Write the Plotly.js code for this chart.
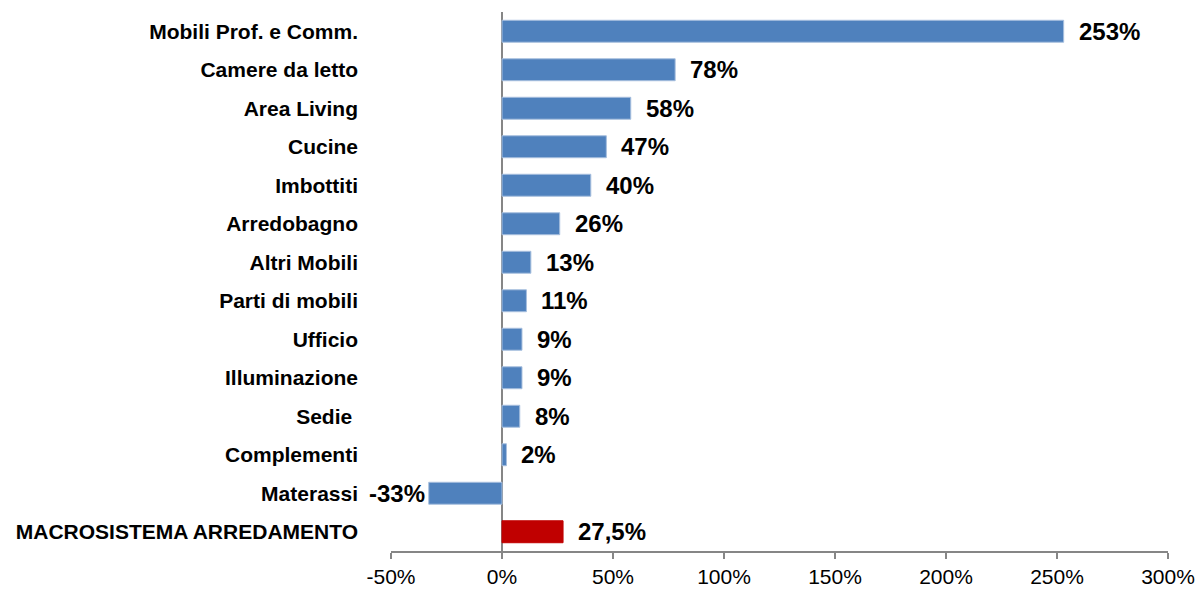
<!DOCTYPE html>
<html>
<head>
<meta charset="utf-8">
<script src="https://cdn.plot.ly/plotly-3.0.1.min.js"></script>
<style>
  html, body { margin: 0; padding: 0; background: #ffffff; }
  #chart { width: 1197px; height: 589px; }
</style>
</head>
<body>
<div id="chart"></div>
<script>
// Categories, top to bottom
const categories = [
  "Mobili Prof. e Comm.",
  "Camere da letto",
  "Area Living",
  "Cucine",
  "Imbottiti",
  "Arredobagno",
  "Altri Mobili",
  "Parti di mobili",
  "Ufficio",
  "Illuminazione",
  "Sedie ",
  "Complementi",
  "Materassi",
  "MACROSISTEMA ARREDAMENTO"
];
// Percentage change values
const values = [253, 78, 58, 47, 40, 26, 13, 11, 9, 9, 8, 2, -33, 27.5];
// Value labels as printed
const valueLabels = ["253%", "78%", "58%", "47%", "40%", "26%", "13%", "11%", "9%", "9%", "8%", "2%", "-33%", "27,5%"];
// Tick values / labels for x axis
const xTickVals = [-50, 0, 50, 100, 150, 200, 250, 300];
const xTickText = ["-50%", "0%", "50%", "100%", "150%", "200%", "250%", "300%"];

const totalLabel = "MACROSISTEMA ARREDAMENTO";
const barColors = categories.map(c => c === totalLabel ? "#C00000" : "#4F81BD");
const lineColors = categories.map(c => c === totalLabel ? "#C00000" : "#A7BFDE");

const trace = {
  type: "bar",
  orientation: "h",
  x: values,
  y: categories,
  marker: { color: barColors, line: { color: lineColors, width: 1 } },
  hoverinfo: "none",
  cliponaxis: false
};

const annotations = values.map((v, i) => ({
  x: v,
  y: categories[i],
  xref: "x",
  yref: "y",
  text: valueLabels[i],
  showarrow: false,
  xanchor: v >= 0 ? "left" : "right",
  xshift: v >= 0 ? 13 : -2,
  yanchor: "middle",
  font: { family: "Liberation Sans, Arial, sans-serif", size: 24, color: "#000000", weight: "bold" }
}));

const layout = {
  width: 1197,
  height: 589,
  margin: { l: 391, r: 29, t: 12, b: 38, pad: 0 },
  paper_bgcolor: "#ffffff",
  plot_bgcolor: "#ffffff",
  showlegend: false,
  bargap: 0.43,
  font: { family: "Liberation Sans, Arial, sans-serif", color: "#000000" },
  xaxis: {
    range: [-50, 300],
    tickvals: xTickVals,
    ticktext: xTickText,
    showgrid: false,
    zeroline: true,
    zerolinecolor: "#868686",
    zerolinewidth: 2,
    showline: true,
    linecolor: "#868686",
    linewidth: 2,
    ticks: "outside",
    ticklen: 6,
    tickwidth: 2,
    tickcolor: "#868686",
    ticklabelstandoff: 0,
    tickfont: { family: "Liberation Sans, Arial, sans-serif", size: 21, color: "#000000" },
    fixedrange: true
  },
  yaxis: {
    type: "category",
    categoryorder: "array",
    categoryarray: categories,
    range: [categories.length - 0.5, -0.5],
    showgrid: false,
    zeroline: false,
    showline: false,
    ticks: "",
    ticklabelstandoff: 32,
    tickfont: { family: "Liberation Sans, Arial, sans-serif", size: 21, color: "#000000", weight: "bold" },
    fixedrange: true
  },
  annotations: annotations
};

Plotly.newPlot("chart", [trace], layout, { displayModeBar: false, staticPlot: true });
</script>
</body>
</html>
